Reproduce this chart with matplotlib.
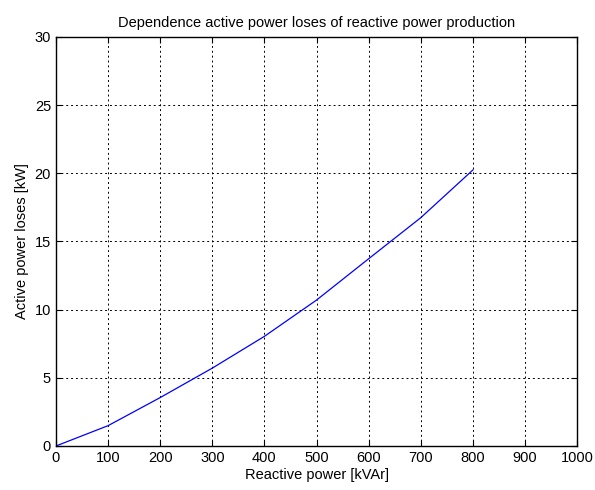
import matplotlib
matplotlib.use("Agg")
import matplotlib.pyplot as plt

plt.rcParams['font.family'] = ['Liberation Sans', 'DejaVu Sans']

# reactive power [kVAr] and active power losses [kW]
q_kvar = [0, 100, 200, 300, 400, 500, 600, 700, 800]
p_loss = [0, 1.49, 3.55, 5.71, 8.04, 10.7, 13.73, 16.74, 20.24]

fig = plt.figure(figsize=(5.95, 4.9), dpi=100)
ax = fig.add_axes([0.094, 0.0898, 0.876, 0.835])

ax.plot(q_kvar, p_loss, color='blue', linewidth=0.9)

ax.set_xlim(0, 1000)
ax.set_ylim(0, 30)
ax.set_xticks(range(0, 1001, 100))
ax.set_yticks(range(0, 31, 5))
ax.grid(True, color='black', linestyle=(0, (2, 3)), linewidth=0.7)
ax.tick_params(direction='in', top=True, right=True, labelsize=10.5, length=4)
for s in ax.spines.values():
    s.set_linewidth(1.0)

ax.set_xlabel('Reactive power [kVAr]', fontsize=10.5, labelpad=2)
ax.set_ylabel('Active power loses [kW]', fontsize=10.5)
ax.set_title('Dependence active power loses of reactive power production', fontsize=10.5, pad=7)

fig.savefig('out.png', dpi=100)
